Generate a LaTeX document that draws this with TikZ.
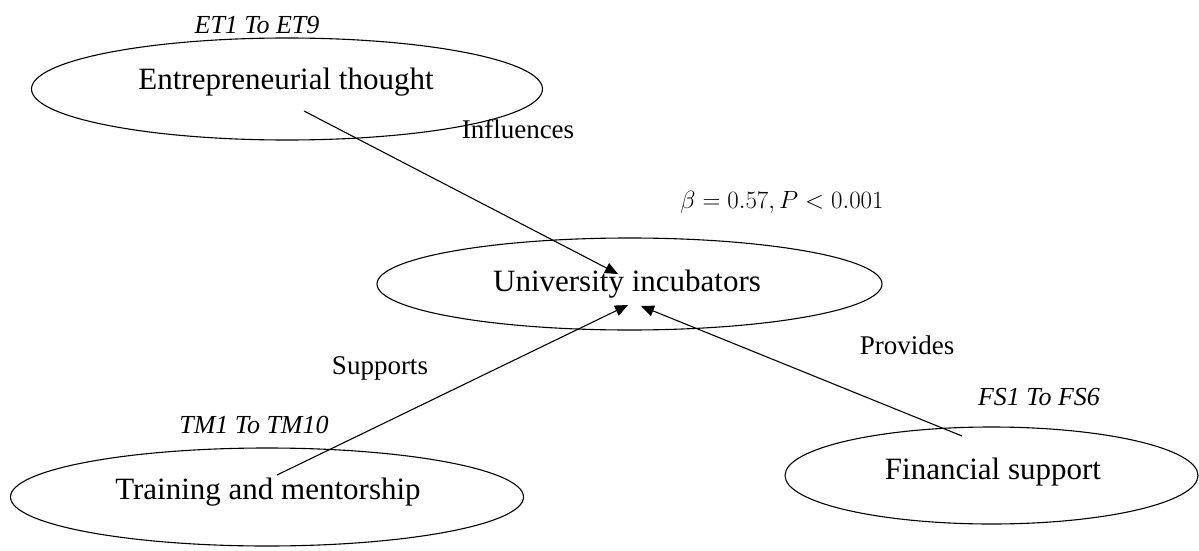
\documentclass[tikz,border=0pt]{standalone}
\usepackage{fontspec}
\setmainfont{Liberation Serif}
\usetikzlibrary{shapes.geometric,arrows.meta}
\tikzset{
  construct/.style={draw=black, line width=1.1pt, ellipse, inner sep=0pt},
  conname/.style={font=\fontsize{31}{34}\selectfont, inner sep=0pt},
  itemlabel/.style={font=\fontsize{26}{28}\selectfont\itshape, inner sep=0pt},
  pathlabel/.style={font=\fontsize{27}{30}\selectfont, inner sep=0pt},
  stat/.style={font=\fontsize{23}{26}\selectfont, inner sep=0pt},
  link/.style={draw=black, line width=1.1pt, -{Triangle[length=13pt,width=11pt]}}
}
\begin{document}
\begin{tikzpicture}[x=1pt,y=-1pt]
\useasboundingbox (0,0) rectangle (1199,551);
% constructs
\node[construct, minimum width=511pt, minimum height=102pt] (et) at (287,89) {};
\node[construct, minimum width=505pt, minimum height=92pt] (ui) at (629.5,284) {};
\node[construct, minimum width=513pt, minimum height=98pt] (tm) at (267,497) {};
\node[construct, minimum width=413pt, minimum height=97pt] (fs) at (991.5,475.5) {};
% construct names
\node[conname] (etT) at (286,82) {Entrepreneurial thought};
\node[conname] (uiT) at (627,284) {University incubators};
\node[conname] (tmT) at (268,492) {Training and mentorship};
\node[conname] (fsT) at (993,472) {Financial support};
% item labels
\node[itemlabel] (etI) at (257,25) {ET1 To ET9};
\node[itemlabel] (tmI) at (254,425) {TM1 To TM10};
\node[itemlabel] (fsI) at (1039,397) {FS1 To FS6};
% path labels
\node[pathlabel] (lInf) at (518,129) {Influences};
\node[pathlabel] (lSup) at (380,368) {Supports};
\node[pathlabel] (lPro) at (907,345) {Provides};
\node[stat] (beta) at (782,202) {$\beta = 0.57, P < 0.001$};
% connector ends
\coordinate (etS) at (304,111);
\coordinate (etE) at (618,274);
\coordinate (tmS) at (277,475);
\coordinate (tmE) at (628,305);
\coordinate (fsS) at (962,436);
\coordinate (fsE) at (641,306);
\draw[link] (etS) -- (etE);
\draw[link] (tmS) -- (tmE);
\draw[link] (fsS) -- (fsE);
\end{tikzpicture}
\end{document}
